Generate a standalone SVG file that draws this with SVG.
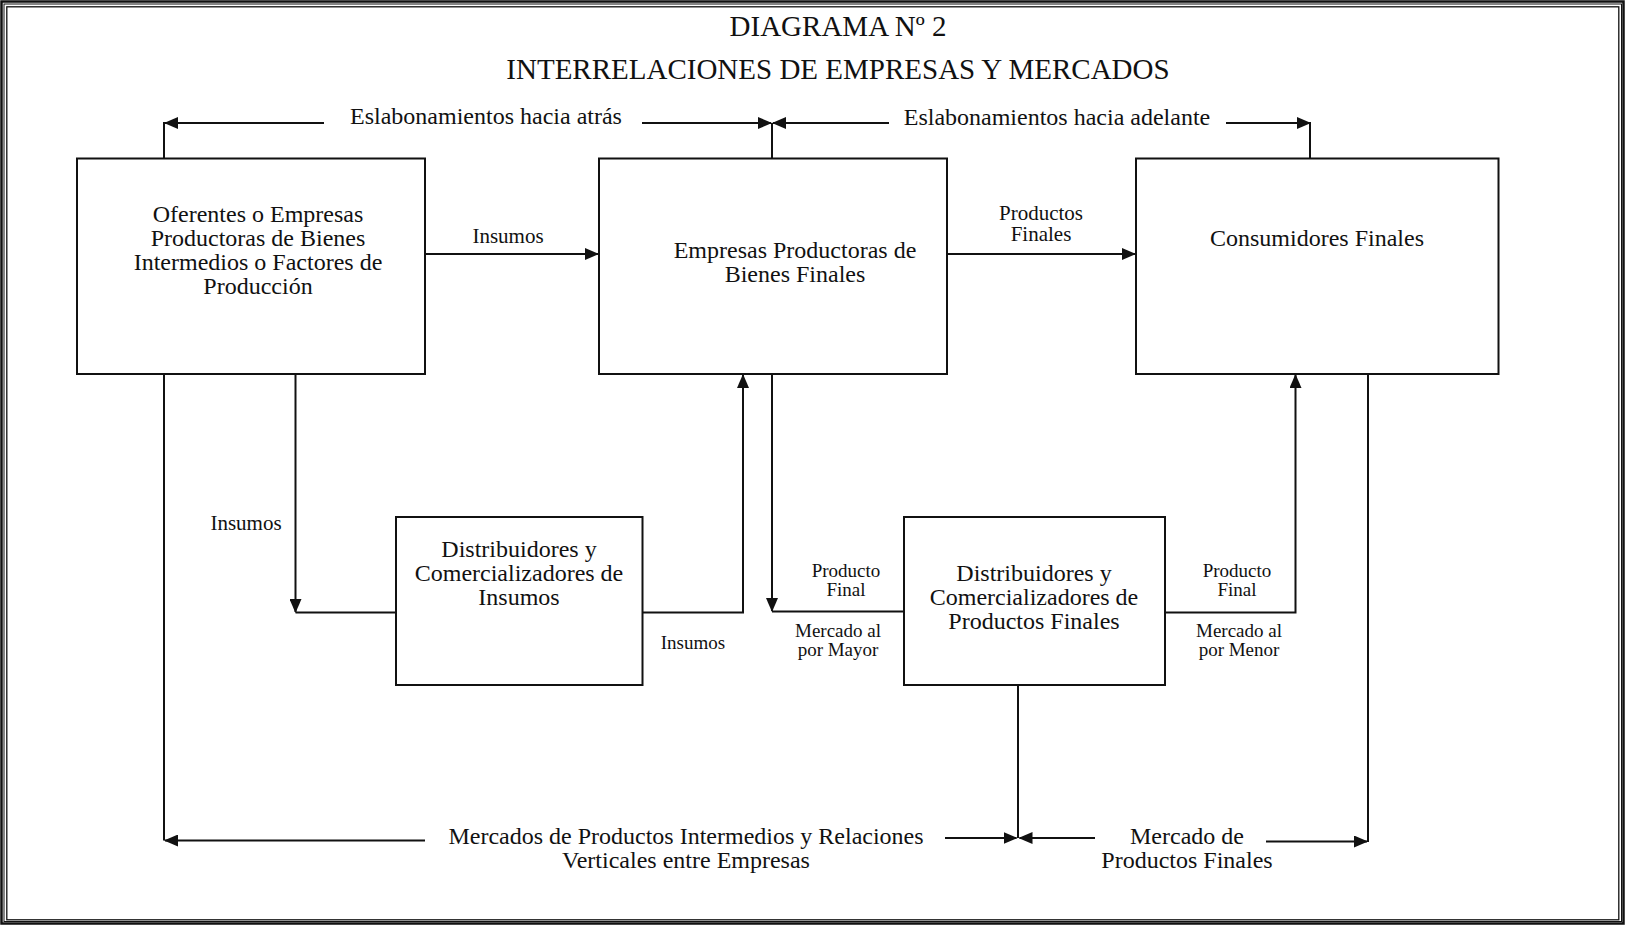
<svg xmlns="http://www.w3.org/2000/svg" width="1625" height="925" viewBox="0 0 1625 925">
<style>
text{font-family:"Liberation Serif","Times New Roman",serif;fill:#111;text-anchor:middle}
.t{font-size:29px}
.b{font-size:24px}
.s{font-size:21px}
.xs{font-size:19px}
.box{fill:#fff;stroke:#111;stroke-width:2}
.ln{fill:none;stroke:#111;stroke-width:2}
</style>
<defs>
<marker id="ah" viewBox="0 0 14 12" refX="13" refY="6" markerWidth="14" markerHeight="12" markerUnits="userSpaceOnUse" orient="auto">
<path d="M0,0 L14,6 L0,12 Z" fill="#111"/>
</marker>
</defs>
<rect width="1625" height="925" fill="#fff"/>
<g id="frame" fill="none" stroke="#111">
<rect x="1.5" y="1.5" width="1622" height="922" stroke-width="2.5"/>
<rect x="4" y="4" width="1617.5" height="917.5" stroke-width="1"/>
<rect x="6.8" y="6.8" width="1612" height="913" stroke-width="1.3"/>
</g>
<g id="title">
<text class="t" x="838" y="36">DIAGRAMA Nº 2</text>
<text class="t" x="838" y="79">INTERRELACIONES DE EMPRESAS Y MERCADOS</text>
</g>
<g id="connectors">
<path class="ln" d="M164,158.5 V123 H324" />
<path class="ln" d="M324,123 H165" marker-end="url(#ah)"/>
<path class="ln" d="M642,123 H771" marker-end="url(#ah)"/>
<path class="ln" d="M772,158.5 V123"/>
<path class="ln" d="M889,123 H773" marker-end="url(#ah)"/>
<path class="ln" d="M1226,123 H1310" marker-end="url(#ah)"/>
<path class="ln" d="M1310,158.5 V122"/>
<path class="ln" d="M425,254 H598" marker-end="url(#ah)"/>
<path class="ln" d="M947,254 H1135" marker-end="url(#ah)"/>
<path class="ln" d="M295.5,374 V612" marker-end="url(#ah)"/>
<path class="ln" d="M295.5,612.5 H396"/>
<path class="ln" d="M642.5,612.5 H743 V375" marker-end="url(#ah)"/>
<path class="ln" d="M772,374 V611" marker-end="url(#ah)"/>
<path class="ln" d="M772,611.5 H904"/>
<path class="ln" d="M1165,612.5 H1295.5 V375" marker-end="url(#ah)"/>
<path class="ln" d="M164,374 V840.5"/>
<path class="ln" d="M425,840.5 H165" marker-end="url(#ah)"/>
<path class="ln" d="M945,838 H1016.5" marker-end="url(#ah)"/>
<path class="ln" d="M1018,685 V838"/>
<path class="ln" d="M1095,838 H1019.5" marker-end="url(#ah)"/>
<path class="ln" d="M1266,841.5 H1367" marker-end="url(#ah)"/>
<path class="ln" d="M1368,374 V842"/>
</g>
<g id="labels">
<text class="b" x="486" y="124">Eslabonamientos hacia atrás</text>
<text class="b" x="1057" y="125">Eslabonamientos hacia adelante</text>
<text class="s" x="508" y="243">Insumos</text>
<text class="s" x="1041" y="220">Productos</text>
<text class="s" x="1041" y="241">Finales</text>
<text class="s" x="246" y="530">Insumos</text>
<text class="xs" x="693" y="649">Insumos</text>
<text class="xs" x="846" y="577">Producto</text>
<text class="xs" x="846" y="596">Final</text>
<text class="xs" x="838" y="637">Mercado al</text>
<text class="xs" x="838" y="656">por Mayor</text>
<text class="xs" x="1237" y="577">Producto</text>
<text class="xs" x="1237" y="596">Final</text>
<text class="xs" x="1239" y="637">Mercado al</text>
<text class="xs" x="1239" y="656">por Menor</text>
<text class="b" x="686" y="844">Mercados de Productos Intermedios y Relaciones</text>
<text class="b" x="686" y="868">Verticales entre Empresas</text>
<text class="b" x="1187" y="844">Mercado de</text>
<text class="b" x="1187" y="868">Productos Finales</text>
</g>
<g id="oferentes">
<rect class="box" x="77" y="158.5" width="348" height="215.5"/>
<text class="b" x="258" y="222">Oferentes o Empresas</text>
<text class="b" x="258" y="246">Productoras de Bienes</text>
<text class="b" x="258" y="270">Intermedios o Factores de</text>
<text class="b" x="258" y="294">Producción</text>
</g>
<g id="empresas-finales">
<rect class="box" x="599" y="158.5" width="348" height="215.5"/>
<text class="b" x="795" y="258">Empresas Productoras de</text>
<text class="b" x="795" y="282">Bienes Finales</text>
</g>
<g id="consumidores">
<rect class="box" x="1136" y="158.5" width="362.5" height="215.5"/>
<text class="b" x="1317" y="246">Consumidores Finales</text>
</g>
<g id="dist-insumos">
<rect class="box" x="396" y="517" width="246.5" height="168"/>
<text class="b" x="519" y="557">Distribuidores y</text>
<text class="b" x="519" y="581">Comercializadores de</text>
<text class="b" x="519" y="605">Insumos</text>
</g>
<g id="dist-productos">
<rect class="box" x="904" y="517" width="261" height="168"/>
<text class="b" x="1034" y="581">Distribuidores y</text>
<text class="b" x="1034" y="605">Comercializadores de</text>
<text class="b" x="1034" y="629">Productos Finales</text>
</g>
</svg>
